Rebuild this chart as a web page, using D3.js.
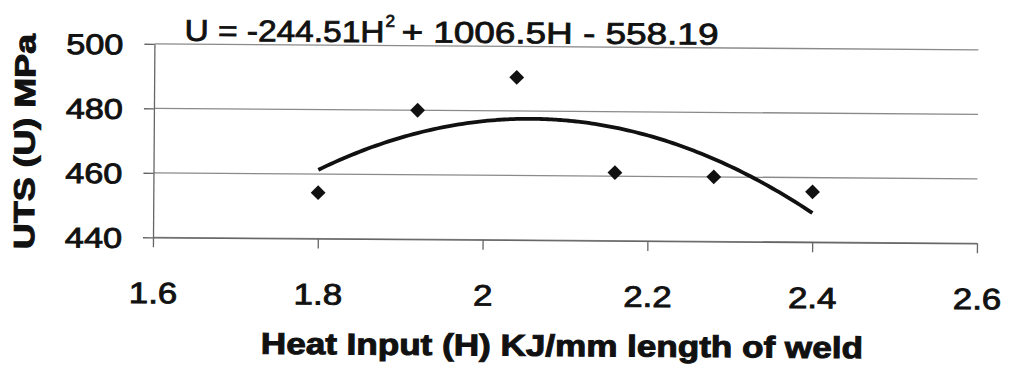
<!DOCTYPE html>
<html>
<head>
<meta charset="utf-8">
<script src="https://cdn.jsdelivr.net/npm/d3@7/dist/d3.min.js"></script>
<style>
  html, body { margin: 0; padding: 0; background: #fff; }
  svg { display: block; }
  text { font-family: "Liberation Sans", Arial, sans-serif; fill: #111; }
</style>
</head>
<body>
<svg id="chart" width="1015" height="375"></svg>
<script>
// Measured heat input (KJ/mm) and ultimate tensile strength (MPa)
const heatInput = [1.8, 1.92, 2.04, 2.16, 2.28, 2.4];
const uts = [454.2, 480, 490.4, 461.1, 460, 455.6];

// Axis ticks
const xTicks = [1.6, 1.8, 2.0, 2.2, 2.4, 2.6];
const yTicks = [440, 460, 480, 500];

// Quadratic trendline U = a*H^2 + b*H + c, fitted over the measured range
const trendCoef = [-244.51, 1006.5, -558.19];
const trendRange = [1.8, 2.4];

const svg = d3.select("#chart");
const plotLeft = 153, plotRight = 977, plotTop = 43.8, plotBottom = 237.3;

// the printed figure sits a little askew on the page
const root = svg.append("g").attr("transform", `rotate(0.42, ${plotLeft}, ${plotBottom})`);

const x = d3.scaleLinear().domain([1.6, 2.6]).range([plotLeft, plotRight]);
const y = d3.scaleLinear().domain([440, 500]).range([plotBottom, plotTop]);

// horizontal gridlines
root.append("g").selectAll("line").data(yTicks).join("line")
  .attr("x1", plotLeft).attr("x2", plotRight)
  .attr("y1", d => y(d)).attr("y2", d => y(d))
  .attr("stroke", "#8a8a8a").attr("stroke-width", 1.3);

// y axis
const yAxis = root.append("g").attr("transform", `translate(${plotLeft},0)`)
  .call(d3.axisLeft(y).tickValues(yTicks).tickSize(10).tickSizeOuter(0).tickFormat(d3.format("d")));
yAxis.select(".domain").attr("stroke", "#666").attr("stroke-width", 1.3);
yAxis.selectAll(".tick line").attr("stroke", "#666").attr("stroke-width", 1.3);
yAxis.selectAll("text")
  .attr("x", 0).attr("dy", "0.36em")
  .attr("transform", "translate(-31,0) scale(1.2,1)")
  .style("font-size", "28.5px").attr("fill", "#111")
  .attr("stroke", "#111").attr("stroke-width", 0.9);

// x axis
const xAxis = root.append("g").attr("transform", `translate(0,${plotBottom})`)
  .call(d3.axisBottom(x).tickValues(xTicks).tickSize(10).tickSizeOuter(0).tickFormat(d3.format("")));
xAxis.select(".domain").attr("stroke", "#666").attr("stroke-width", 1.3);
xAxis.selectAll(".tick line").attr("stroke", "#666").attr("stroke-width", 1.3);
xAxis.selectAll("text")
  .attr("y", 0).attr("dy", "0.71em")
  .attr("transform", "translate(0,45) scale(1.18,1)")
  .style("font-size", "29.5px").attr("fill", "#111")
  .attr("stroke", "#111").attr("stroke-width", 0.9);

// trendline
const trendY = h => trendCoef[0] * h * h + trendCoef[1] * h + trendCoef[2];
const hs = d3.range(trendRange[0], trendRange[1] + 1e-9, 0.005);
root.append("path")
  .datum(hs)
  .attr("fill", "none").attr("stroke", "#111").attr("stroke-width", 3.8)
  .attr("d", d3.line().x(h => x(h)).y(h => y(trendY(h))).curve(d3.curveMonotoneX));

// data points (diamonds)
root.append("g").selectAll("path").data(heatInput.map((h, i) => [h, uts[i]])).join("path")
  .attr("transform", d => `translate(${x(d[0])},${y(d[1])})`)
  .attr("d", d3.symbol(d3.symbolDiamond2, 140)())
  .attr("fill", "#111");

// equation label
const eq = root.append("g").attr("stroke", "#111").attr("stroke-width", 0.8);
eq.append("text").attr("x", 183).attr("y", 40.5)
  .attr("textLength", 200).attr("lengthAdjust", "spacingAndGlyphs")
  .style("font-size", "30px").text("U = -244.51H");
eq.append("text").attr("x", 384).attr("y", 25)
  .style("font-size", "17px").text("2");
eq.append("text").attr("x", 400).attr("y", 40.5)
  .attr("textLength", 317).attr("lengthAdjust", "spacingAndGlyphs")
  .style("font-size", "30px").text("+ 1006.5H - 558.19");

// axis titles
root.append("text")
  .attr("x", 261.7).attr("y", 353)
  .attr("textLength", 602).attr("lengthAdjust", "spacingAndGlyphs")
  .style("font-size", "30px").style("font-weight", "bold")
  .attr("stroke", "#111").attr("stroke-width", 1)
  .text("Heat Input (H) KJ/mm length of weld");

root.append("text")
  .attr("transform", "translate(34,250) rotate(-90)")
  .attr("textLength", 215).attr("lengthAdjust", "spacingAndGlyphs")
  .style("font-size", "29px").style("font-weight", "bold")
  .attr("stroke", "#111").attr("stroke-width", 1)
  .text("UTS (U) MPa");
</script>
</body>
</html>
